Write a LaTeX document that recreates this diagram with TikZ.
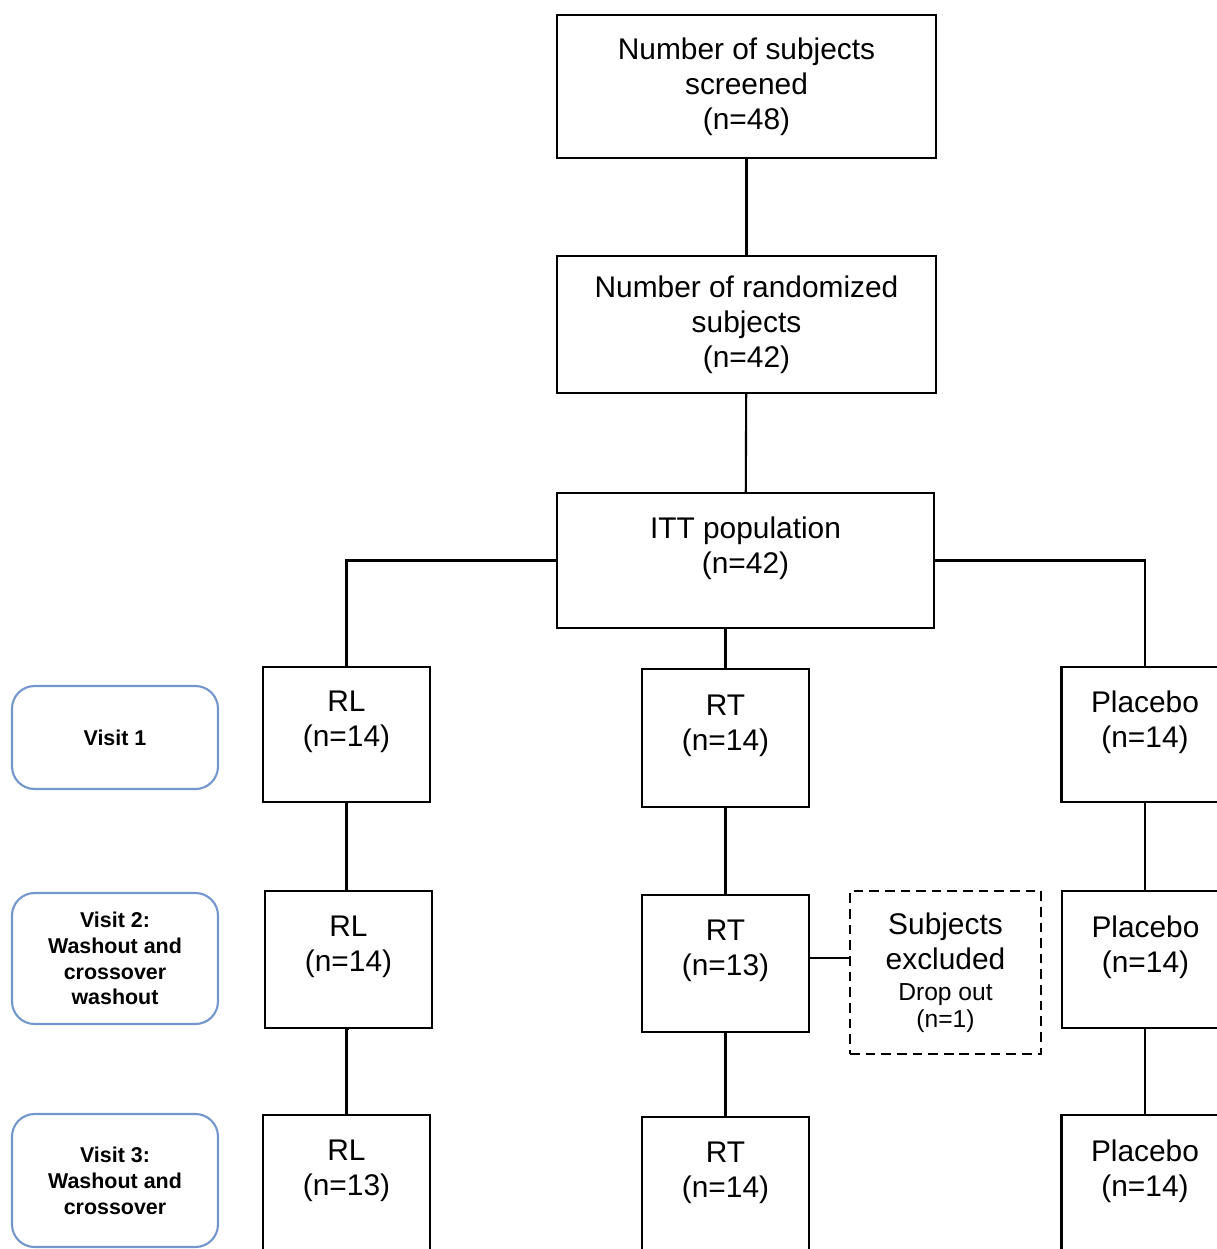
\documentclass[tikz,border=0pt]{standalone}
\usepackage{fontspec}
\setmainfont{Liberation Sans}
\definecolor{visitblue}{RGB}{115,150,205}
\tikzset{
  box/.style={draw, line width=1.2pt, align=center, inner sep=0pt,
    font=\fontsize{17}{19.85}\selectfont},
  bigbox/.style={box, minimum width=7.58cm, minimum height=2.74cm},
  armbox/.style={box, minimum width=3.34cm, minimum height=2.74cm},
  dropbox/.style={box, dash pattern=on 5.5pt off 3.4pt,
    minimum width=3.82cm, minimum height=3.26cm},
  visitbox/.style={draw=visitblue, line width=1.2pt, rounded corners=0.45cm,
    align=center, minimum width=4.12cm, inner sep=0pt,
    font=\bfseries\fontsize{12.2}{14.7}\selectfont},
  link/.style={line width=1.2pt}
}
\newcommand{\smalltxt}{\fontsize{14}{15.3}\selectfont}
\begin{document}
\begin{tikzpicture}[x=0.02cm,y=-0.02cm]
  \useasboundingbox (0,0) rectangle (1217,1249);
  % top of the chart
  \node[bigbox, minimum height=2.86cm] (scr) at (746.5,86.5)
    {Number of subjects\\screened\\(n=48)};
  \node[bigbox] (rnd) at (746.5,324.5)
    {Number of randomized\\subjects\\(n=42)};
  \node[bigbox, minimum width=7.54cm, minimum height=2.70cm] (itt) at (745.5,560.5)
    {ITT population\\(n=42)\\[-8pt]\strut};
  % visit labels
  \node[visitbox, minimum height=2.06cm] (v1) at (115,737.5) {Visit 1};
  \node[visitbox, minimum height=2.62cm] (v2) at (115,958.5)
    {Visit 2:\\Washout and\\crossover\\washout};
  \node[visitbox, minimum height=2.66cm] (v3) at (115,1180.5)
    {Visit 3:\\Washout and\\crossover};
  % arms, visit 1
  \node[armbox, minimum height=2.70cm] (rl1) at (346.5,734.5) {RL\\(n=14)\\[-8pt]\strut};
  \node[armbox, minimum height=2.76cm] (rt1) at (725.5,738) {RT\\(n=14)\\[-8pt]\strut};
  \node[armbox, minimum height=2.70cm] (pl1) at (1145,734.5) {Placebo\\(n=14)\\[-8pt]\strut};
  % arms, visit 2
  \node[armbox] (rl2) at (348.5,959.5) {RL\\(n=14)\\[-8pt]\strut};
  \node[armbox] (rt2) at (725.5,963.5) {RT\\(n=13)\\[-8pt]\strut};
  \node[armbox] (pl2) at (1145.5,959.5) {Placebo\\(n=14)\\[-8pt]\strut};
  \node[dropbox] (exc) at (945.5,972.5)
    {Subjects\\excluded\\[-2.3pt]{\smalltxt Drop out}\\[-4.5pt]{\smalltxt (n=1)}};
  % arms, visit 3
  \node[armbox] (rl3) at (346.5,1183.5) {RL\\(n=13)\\[-8pt]\strut};
  \node[armbox] (rt3) at (725.5,1185.5) {RT\\(n=14)\\[-8pt]\strut};
  \node[armbox] (pl3) at (1145,1183.5) {Placebo\\(n=14)\\[-8pt]\strut};
  % connectors
  \draw[link] (scr) -- (rnd);
  \draw[link] (rnd) -- (itt);
  \draw[link] (itt.west) -| (rl1.north);
  \draw[link] (itt.east) -| (pl1.north);
  \draw[link] (rt1.north |- itt.south) -- (rt1.north);
  \draw[link] (rl1.south) -- (rl1.south |- rl2.north);
  \draw[link] (rt1) -- (rt2);
  \draw[link] (pl1) -- (pl1 |- pl2.north);
  \draw[link] (rl2.south) -- (rl2.south -| rl3.north) -- (rl3.north);
  \draw[link] (rt2) -- (rt3);
  \draw[link] (pl2.south -| pl3.north) -- (pl3.north);
  \draw[link] ([yshift=0.11cm]rt2.east) -- ([yshift=0.11cm]rt2.east -| exc.west);
\end{tikzpicture}
\end{document}
